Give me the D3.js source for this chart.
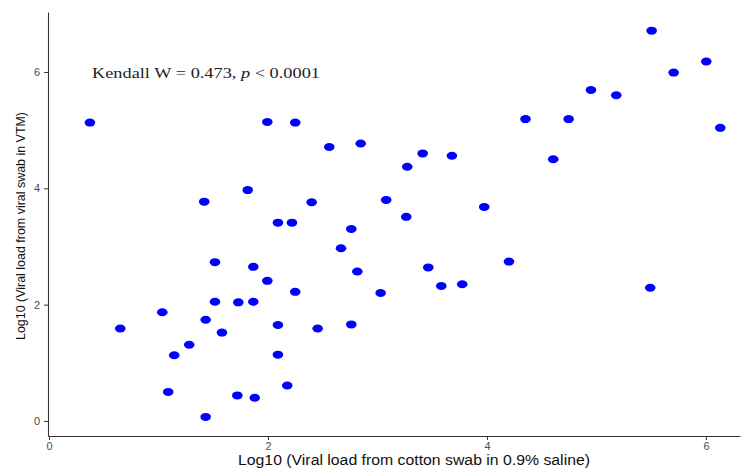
<!DOCTYPE html>
<html>
<head>
<meta charset="utf-8">
<script src="https://cdn.jsdelivr.net/npm/d3@7/dist/d3.min.js"></script>
<style>
html,body{margin:0;padding:0;background:#fff;}
svg{display:block;}
</style>
</head>
<body>
<svg id="chart" width="743" height="471"></svg>
<script>
const xValues = [0.374,0.651,1.035,1.089,1.144,1.281,1.418,1.431,1.431,1.516,1.516,1.580,1.729,1.720,1.815,1.866,1.866,1.879,1.994,1.994,2.091,2.091,2.091,2.176,2.219,2.249,2.249,2.399,2.454,2.560,2.667,2.761,2.761,2.816,2.847,3.029,3.080,3.263,3.272,3.413,3.464,3.583,3.680,3.774,3.975,4.201,4.352,4.605,4.746,4.950,5.181,5.491,5.504,5.705,6.003,6.131];
const yValues = [5.13,1.59,1.87,0.50,1.13,1.31,3.77,1.74,0.07,2.73,2.05,1.52,2.04,0.44,3.97,2.65,2.05,0.40,5.14,2.41,3.41,1.65,1.14,0.61,3.41,5.13,2.22,3.76,1.59,4.71,2.97,3.30,1.66,2.57,4.77,2.20,3.80,3.51,4.37,4.60,2.64,2.32,4.56,2.35,3.68,2.74,5.19,4.50,5.19,5.69,5.60,2.29,6.71,5.99,6.18,5.04];
const xTicks = [0,2,4,6];
const yTicks = [0,2,4,6];
const xTitle = "Log10 (Viral load from cotton swab in 0.9% saline)";
const yTitle = "Log10 (Viral load from viral swab in VTM)";

(function () {
const svg = d3.select("#chart");
const pL = 48, pR = 740, pT = 12, pB = 436;

const x = d3.scaleLinear().domain([-0.009, 6.311]).range([pL, pR]);
const y = d3.scaleLinear().domain([-0.258, 7.031]).range([pB, pT]);
const fmt = d3.format("d");

const gx = svg.append("g").attr("transform", `translate(0,${pB})`)
  .call(d3.axisBottom(x).tickValues(xTicks).tickFormat(fmt).tickSize(4).tickPadding(2).tickSizeOuter(0));
const gy = svg.append("g").attr("transform", `translate(${pL},0)`)
  .call(d3.axisLeft(y).tickValues(yTicks).tickFormat(fmt).tickSize(4).tickPadding(4).tickSizeOuter(0));

[gx, gy].forEach(g => {
  g.select(".domain").attr("stroke", "#333").attr("stroke-width", 1.1);
  g.selectAll(".tick line").attr("stroke", "#333");
  g.selectAll(".tick text").attr("fill", "#4d4d4d")
    .style("font-family", "'Liberation Sans', Arial, sans-serif").style("font-size", "11px");
});

const pts = xValues.map((v, i) => ({x: v, y: yValues[i]}));
svg.append("g").selectAll("ellipse").data(pts).enter().append("ellipse")
  .attr("cx", d => x(d.x)).attr("cy", d => y(d.y))
  .attr("rx", 5.3).attr("ry", 4).attr("fill", "#0000ff");

svg.append("text").attr("x", (pL + pR) / 2 + 20).attr("y", 465)
  .attr("text-anchor", "middle")
  .attr("textLength", 352).attr("lengthAdjust", "spacingAndGlyphs")
  .style("font-family", "'Liberation Sans', Arial, sans-serif").style("font-size", "14px")
  .attr("fill", "#111").text(xTitle);

svg.append("text").attr("transform", `translate(25,${(pT + pB) / 2 + 2}) rotate(-90)`)
  .attr("text-anchor", "middle")
  .attr("textLength", 228).attr("lengthAdjust", "spacingAndGlyphs")
  .style("font-family", "'Liberation Sans', Arial, sans-serif").style("font-size", "13px")
  .attr("fill", "#111").text(yTitle);

const ann = svg.append("text").attr("x", 92).attr("y", 78)
  .attr("textLength", 228).attr("lengthAdjust", "spacingAndGlyphs")
  .style("font-family", "'Liberation Serif', 'Times New Roman', serif").style("font-size", "15px")
  .attr("fill", "#222");
ann.append("tspan").text("Kendall W = 0.473, ");
ann.append("tspan").style("font-style", "italic").text("p");
ann.append("tspan").text(" < 0.0001");
})();
</script>
</body>
</html>
